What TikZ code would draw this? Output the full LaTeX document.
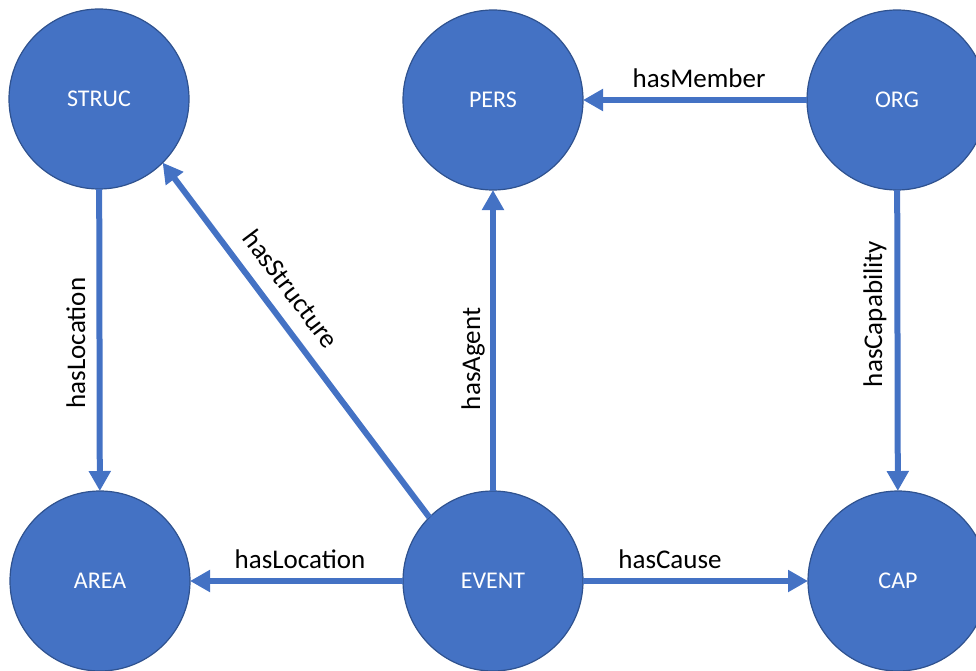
\documentclass[tikz,border=0pt]{standalone}
\usepackage{fontspec}
\setmainfont{Carlito}
\usetikzlibrary{arrows.meta}
\definecolor{nodefill}{HTML}{4472C4}
\definecolor{nodeborder}{HTML}{2F528F}
\definecolor{linkcol}{HTML}{4472C4}
\tikzset{
  entity/.style={circle, minimum size=180pt, inner sep=0pt, outer sep=0pt,
    fill=nodefill, draw=nodeborder, line width=1.2pt, text=white,
    font=\fontsize{24}{28}\selectfont},
  link/.style={draw=linkcol, line width=6pt,
    -{Triangle[width=21pt,length=20pt]}},
  lbl/.style={inner sep=0pt, text=black, font=\fontsize{27}{32}\selectfont}
}
\begin{document}
\begin{tikzpicture}[x=1pt,y=-1pt]
\useasboundingbox (0,0) rectangle (976,671);
\clip (0,0) rectangle (976,671);
\node[entity] (struc) at (99,99) {STRUC};
\node[entity] (pers) at (493,100) {PERS};
\node[entity] (org) at (897,100) {ORG};
\node[entity] (area) at (100,581) {AREA};
\node[entity] (event) at (493,581) {EVENT};
\node[entity] (cap) at (898,581) {CAP};

\draw[link] (struc) -- (area);
\draw[link] (org) -- (pers);
\draw[link] (event.135) -- (struc.-45);
\draw[link] (event) -- (pers);
\draw[link] (org) -- (cap);
\draw[link] (event) -- (area);
\draw[link] (event) -- (cap);

\node[lbl, anchor=base] (lmember) at (699,88) {hasMember};
\node[lbl, anchor=base] (llocb) at (300,568) {hasLocation};
\node[lbl, anchor=base] (lcause) at (670,568) {hasCause};
\node[lbl, rotate=90, anchor=base] (llocv) at (85,343) {hasLocation};
\node[lbl, rotate=90, anchor=base] (lagent) at (480,359) {hasAgent};
\node[lbl, rotate=90, anchor=base] (lcapab) at (882,314) {hasCapability};
\node[lbl, rotate=-53, anchor=center] (lstruct) at (291,289) {hasStructure};
\end{tikzpicture}
\end{document}
